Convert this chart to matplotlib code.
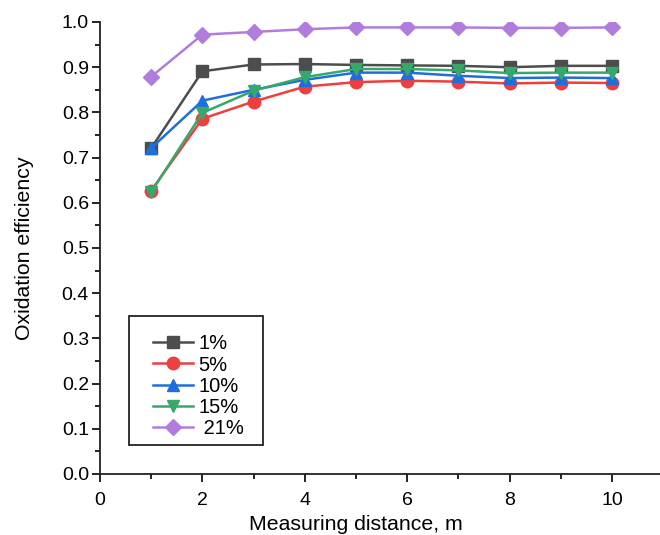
import matplotlib
matplotlib.use('Agg')
from matplotlib import pyplot as plt
from matplotlib.patches import Rectangle
from matplotlib.ticker import MultipleLocator

plt.rcParams['font.family'] = ['Liberation Sans', 'DejaVu Sans']

distance = [1, 2, 3, 4, 5, 6, 7, 8, 9, 10]

labels = ['1%', '5%', '10%', '15%', ' 21%']
eff_1 = [0.721, 0.891, 0.906, 0.907, 0.905, 0.904, 0.903, 0.900, 0.903, 0.903]
eff_5 = [0.627, 0.786, 0.824, 0.857, 0.867, 0.870, 0.868, 0.864, 0.866, 0.865]
eff_10 = [0.721, 0.826, 0.850, 0.872, 0.888, 0.888, 0.881, 0.876, 0.877, 0.876]
eff_15 = [0.624, 0.799, 0.848, 0.878, 0.896, 0.896, 0.893, 0.887, 0.888, 0.888]
eff_21 = [0.879, 0.972, 0.978, 0.984, 0.988, 0.988, 0.988, 0.987, 0.987, 0.988]

series = [eff_1, eff_5, eff_10, eff_15, eff_21]
colors = ['#4d4d4d', '#ef3e3e', '#1e6fde', '#36a86a', '#b07ddd']
markers = ['s', 'o', '^', 'v', 'D']
msizes = [8, 9, 9, 9, 8]

fig = plt.figure(figsize=(6.6, 5.35), dpi=100)
ax_w = 560 / 660
ax_h = 452 / 535
ax = fig.add_axes([100 / 660, 61 / 535, ax_w, ax_h])

for vals, lab, c, m, ms in zip(series, labels, colors, markers, msizes):
    ax.plot(distance, vals, color=c, lw=1.8, marker=m, markersize=ms,
            markeredgecolor=c, label=lab)

xmax = 560 / 51.2
ax.set_xlim(0, xmax)
ax.set_ylim(0, 1.0)
ax.xaxis.set_major_locator(MultipleLocator(2))
ax.xaxis.set_minor_locator(MultipleLocator(1))
ax.yaxis.set_minor_locator(MultipleLocator(0.05))
ax.set_yticks([i / 10 for i in range(11)])
ax.set_yticklabels(['%.1f' % (i / 10) for i in range(11)])

for side in ['top', 'right']:
    ax.spines[side].set_visible(False)
for side in ['left', 'bottom']:
    ax.spines[side].set_linewidth(1.3)
    ax.spines[side].set_color('#222222')

ax.tick_params(which='major', direction='out', length=6, width=1.2, labelsize=14)
ax.tick_params(which='minor', direction='out', length=3.5, width=1.2)
ax.tick_params(axis='y', which='major', pad=2)
ax.tick_params(axis='x', which='major', pad=7)

# x label centred on x = 5, y label pushed out to the figure edge
ax.set_xlabel('Measuring distance, m', fontsize=15.3)
ax.xaxis.set_label_coords(5 / xmax, -0.09)
ax.set_ylabel('Oxidation efficiency', fontsize=15.3)
ax.yaxis.set_label_coords(-0.118, 0.5)

# legend entries without frame, square box drawn separately (wider side padding)
leg = ax.legend(loc='upper left', bbox_to_anchor=(0.0946, 0.309), fontsize=14.5,
                frameon=False, handlelength=2.0, handletextpad=0.25,
                labelspacing=0.11, borderpad=0, borderaxespad=0)
ax.add_patch(Rectangle((0.0518, 0.0642), 0.291 - 0.0518, 0.3496 - 0.0642,
                       transform=ax.transAxes, fill=False, ec='#222222',
                       lw=1.3, zorder=5))

fig.savefig('out.png', dpi=100)
